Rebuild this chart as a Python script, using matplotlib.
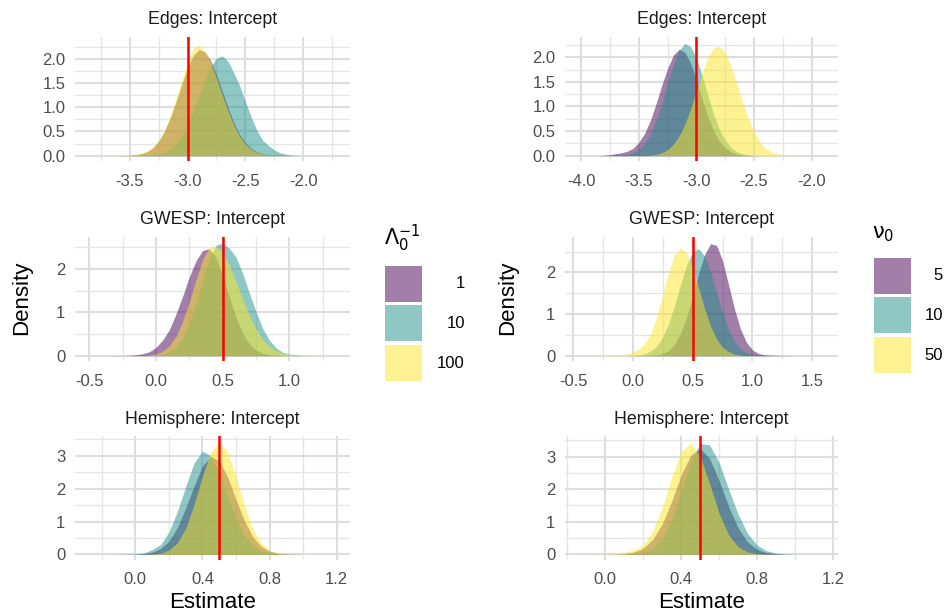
import matplotlib
matplotlib.use("Agg")
import matplotlib.pyplot as plt
from matplotlib.ticker import FixedLocator, MultipleLocator
from matplotlib.patches import Rectangle

plt.rcParams['font.family'] = ['Liberation Sans', 'DejaVu Sans']
plt.rcParams['mathtext.fontset'] = 'dejavusans'

W, H = 945, 615
fill_colors = ["#440154", "#21908C", "#FDE725"]

# ---- posterior densities ----
# Edges intercept, Lambda_0^-1 prior (1, 10, 100)
edges_lam_x = [-3.70, -3.65, -3.60, -3.55, -3.50, -3.45, -3.40, -3.35, -3.30, -3.25, -3.20, -3.15,
               -3.10, -3.05, -3.00, -2.95, -2.90, -2.85, -2.80, -2.75, -2.70, -2.65, -2.60, -2.55,
               -2.50, -2.45, -2.40, -2.35, -2.30, -2.25, -2.20, -2.15, -2.10, -2.05, -2.00]
edges_lam_1 = [0.0, 0.0, 0.001, 0.003, 0.007, 0.017, 0.04, 0.083, 0.16, 0.30, 0.50, 0.78,
               1.11, 1.47, 1.82, 2.07, 2.19, 2.14, 1.96, 1.67, 1.33, 0.99, 0.68, 0.44,
               0.27, 0.15, 0.08, 0.04, 0.018, 0.007, 0.003, 0.001, 0.0, 0.0, 0.0]
edges_lam_10 = [0.0, 0.0, 0.0, 0.0, 0.0, 0.001, 0.003, 0.007, 0.017, 0.036, 0.074, 0.14,
                0.25, 0.41, 0.64, 0.93, 1.25, 1.57, 1.84, 2.01, 2.06, 1.95, 1.71, 1.45,
                1.12, 0.80, 0.52, 0.32, 0.21, 0.12, 0.06, 0.03, 0.012, 0.004, 0.001]
edges_lam_100 = [0.0, 0.0, 0.002, 0.005, 0.01, 0.025, 0.05, 0.095, 0.18, 0.32, 0.53, 0.83,
                 1.18, 1.56, 1.93, 2.22, 2.29, 2.15, 1.92, 1.60, 1.25, 0.92, 0.63, 0.40,
                 0.24, 0.13, 0.07, 0.035, 0.015, 0.006, 0.002, 0.0, 0.0, 0.0, 0.0]

# Edges intercept, nu_0 prior (5, 10, 50)
edges_nu_x = [-3.85, -3.80, -3.75, -3.70, -3.65, -3.60, -3.55, -3.50, -3.45, -3.40, -3.35, -3.30,
              -3.25, -3.20, -3.15, -3.10, -3.05, -3.00, -2.95, -2.90, -2.85, -2.80, -2.75, -2.70,
              -2.65, -2.60, -2.55, -2.50, -2.45, -2.40, -2.35, -2.30, -2.25, -2.20, -2.15]
edges_nu_5 = [0.001, 0.01, 0.02, 0.04, 0.06, 0.09, 0.15, 0.27, 0.45, 0.71, 1.05, 1.43,
              1.77, 2.04, 2.16, 2.10, 1.88, 1.54, 1.15, 0.80, 0.50, 0.29, 0.16, 0.076,
              0.034, 0.014, 0.005, 0.002, 0.0, 0.0, 0.0, 0.0, 0.0, 0.0, 0.0]
edges_nu_10 = [0.0, 0.0, 0.001, 0.004, 0.01, 0.025, 0.058, 0.125, 0.24, 0.44, 0.71, 1.06,
               1.47, 1.85, 2.14, 2.28, 2.22, 1.98, 1.63, 1.22, 0.84, 0.53, 0.31, 0.17,
               0.08, 0.036, 0.015, 0.005, 0.002, 0.0, 0.0, 0.0, 0.0, 0.0, 0.0]
edges_nu_50 = [0.0, 0.0, 0.0, 0.0, 0.0, 0.0, 0.001, 0.002, 0.004, 0.011, 0.027, 0.06,
               0.12, 0.23, 0.40, 0.64, 0.95, 1.31, 1.68, 2.00, 2.19, 2.22, 2.09, 1.82,
               1.46, 1.10, 0.76, 0.48, 0.28, 0.15, 0.08, 0.04, 0.016, 0.006, 0.002]

# GWESP intercept, Lambda_0^-1 prior
gwesp_lam_x = [-0.35, -0.30, -0.25, -0.20, -0.15, -0.10, -0.05, 0.00, 0.05, 0.10, 0.15, 0.20,
               0.25, 0.30, 0.35, 0.40, 0.45, 0.50, 0.55, 0.60, 0.65, 0.70, 0.75, 0.80,
               0.85, 0.90, 0.95, 1.00, 1.05, 1.10, 1.15, 1.20]
gwesp_lam_1 = [0.0, 0.003, 0.004, 0.01, 0.02, 0.045, 0.09, 0.19, 0.36, 0.60, 0.96, 1.37,
               1.82, 2.19, 2.43, 2.47, 2.26, 1.85, 1.35, 0.89, 0.52, 0.27, 0.13, 0.054,
               0.02, 0.007, 0.002, 0.0, 0.0, 0.0, 0.0, 0.0]
gwesp_lam_10 = [0.0, 0.0, 0.0, 0.0, 0.0, 0.001, 0.003, 0.011, 0.03, 0.085, 0.19, 0.41,
                0.74, 1.21, 1.74, 2.24, 2.55, 2.60, 2.48, 2.28, 1.90, 1.45, 1.02, 0.63,
                0.36, 0.18, 0.08, 0.035, 0.014, 0.005, 0.002, 0.001]
gwesp_lam_100 = [0.0, 0.0, 0.0, 0.0, 0.001, 0.005, 0.015, 0.04, 0.10, 0.23, 0.44, 0.79,
                 1.24, 1.75, 2.22, 2.50, 2.53, 2.38, 2.09, 1.72, 1.30, 0.93, 0.62, 0.38,
                 0.22, 0.12, 0.06, 0.028, 0.012, 0.005, 0.002, 0.001]

# GWESP intercept, nu_0 prior
gwesp_nu_x = [-0.40, -0.35, -0.30, -0.25, -0.20, -0.15, -0.10, -0.05, 0.00, 0.05, 0.10, 0.15,
              0.20, 0.25, 0.30, 0.35, 0.40, 0.45, 0.50, 0.55, 0.60, 0.65, 0.70, 0.75,
              0.80, 0.85, 0.90, 0.95, 1.00, 1.05, 1.10, 1.15, 1.20, 1.25, 1.30, 1.35]
gwesp_nu_5 = [0.0, 0.0, 0.0, 0.0, 0.0, 0.0, 0.0, 0.0, 0.0, 0.001, 0.002, 0.007,
              0.02, 0.054, 0.13, 0.28, 0.54, 0.92, 1.43, 1.97, 2.43, 2.69, 2.65, 2.28,
              1.71, 1.12, 0.64, 0.32, 0.14, 0.052, 0.025, 0.015, 0.01, 0.006, 0.003, 0.0]
gwesp_nu_10 = [0.0, 0.0, 0.0, 0.0, 0.0, 0.0, 0.001, 0.002, 0.006, 0.018, 0.046, 0.11,
               0.23, 0.45, 0.78, 1.21, 1.72, 2.18, 2.49, 2.57, 2.39, 2.01, 1.52, 1.04,
               0.63, 0.35, 0.17, 0.077, 0.031, 0.011, 0.004, 0.001, 0.0, 0.0, 0.0, 0.0]
gwesp_nu_50 = [0.0, 0.0, 0.002, 0.003, 0.005, 0.008, 0.012, 0.04, 0.09, 0.16, 0.30, 0.52,
               0.94, 1.47, 2.02, 2.44, 2.60, 2.47, 2.11, 1.63, 1.13, 0.71, 0.40, 0.20,
               0.094, 0.039, 0.014, 0.005, 0.002, 0.0, 0.0, 0.0, 0.0, 0.0, 0.0, 0.0]

# Hemisphere intercept, Lambda_0^-1 prior
hemi_lam_x = [-0.15, -0.10, -0.05, 0.00, 0.05, 0.10, 0.15, 0.20, 0.25, 0.30, 0.35, 0.40,
              0.45, 0.50, 0.55, 0.60, 0.65, 0.70, 0.75, 0.80, 0.85, 0.90, 0.95, 1.00]
hemi_lam_1 = [0.0, 0.002, 0.003, 0.006, 0.021, 0.065, 0.18, 0.40, 0.81, 1.41, 2.08, 2.69,
              2.98, 2.85, 2.36, 1.67, 1.03, 0.54, 0.25, 0.10, 0.033, 0.01, 0.004, 0.001]
hemi_lam_10 = [0.0, 0.003, 0.005, 0.015, 0.04, 0.15, 0.30, 0.68, 1.30, 2.06, 2.78, 3.14,
               3.00, 2.48, 1.76, 1.09, 0.57, 0.26, 0.10, 0.035, 0.01, 0.003, 0.001, 0.0]
hemi_lam_100 = [0.0, 0.0, 0.0, 0.0, 0.002, 0.01, 0.04, 0.13, 0.35, 0.79, 1.51, 2.38,
                3.12, 3.42, 3.12, 2.38, 1.51, 0.79, 0.35, 0.13, 0.04, 0.01, 0.003, 0.001]

# Hemisphere intercept, nu_0 prior
hemi_nu_x = [-0.05, 0.00, 0.05, 0.10, 0.15, 0.20, 0.25, 0.30, 0.35, 0.40, 0.45,
             0.50, 0.55, 0.60, 0.65, 0.70, 0.75, 0.80, 0.85, 0.90, 0.95, 1.00]
hemi_nu_5 = [0.001, 0.003, 0.006, 0.02, 0.065, 0.18, 0.45, 0.92, 1.62, 2.42, 3.04,
             3.25, 2.94, 2.26, 1.47, 0.81, 0.38, 0.15, 0.05, 0.014, 0.004, 0.001]
hemi_nu_10 = [0.0, 0.0, 0.0, 0.002, 0.012, 0.05, 0.17, 0.47, 1.04, 1.91, 2.82,
              3.40, 3.36, 2.82, 2.01, 1.23, 0.64, 0.28, 0.11, 0.035, 0.01, 0.003]
hemi_nu_50 = [0.002, 0.006, 0.02, 0.06, 0.13, 0.28, 0.71, 1.43, 2.35, 3.14, 3.41,
              3.01, 2.17, 1.26, 0.60, 0.23, 0.073, 0.02, 0.005, 0.001, 0.0, 0.0]

true_values = {"Edges": -3.0, "GWESP": 0.5, "Hemisphere": 0.5}
lam_levels = ["1", "10", "100"]
nu_levels = ["5", "10", "50"]


def px_rect(l, t, r, b):
    return [l / W, 1 - b / H, (r - l) / W, (b - t) / H]


def ftext(x, y, s, **kw):
    fig.text(x / W, 1 - y / H, s, **kw)


def draw_panel(rect, x, curves, truth, title, xlim, ylim, xticks, xlabels, xminor,
               yticks, ylabels, yminor):
    ax = fig.add_axes(px_rect(*rect))
    for y, c in zip(curves, fill_colors):
        ax.fill_between(x, y, 0, color=c, alpha=0.5, linewidth=0, zorder=2)
    ax.axvline(truth, color="red", lw=1.8, zorder=5)
    ax.set_xlim(xlim)
    ax.set_ylim(ylim)
    ax.xaxis.set_major_locator(FixedLocator(xticks))
    ax.set_xticklabels(xlabels)
    ax.yaxis.set_major_locator(FixedLocator(yticks))
    ax.set_yticklabels(ylabels)
    ax.xaxis.set_minor_locator(MultipleLocator(xminor))
    ax.yaxis.set_minor_locator(MultipleLocator(yminor))
    ax.grid(which="major", color="#DEDEDE", lw=1.5, zorder=0)
    ax.grid(which="minor", color="#E6E6E6", lw=1.0, zorder=0)
    ax.set_axisbelow(True)
    ax.tick_params(which="both", length=0)
    ax.tick_params(axis="x", labelsize=12, labelcolor="#4D4D4D", pad=9)
    ax.tick_params(axis="y", labelsize=12, labelcolor="#4D4D4D", pad=7)
    for s in ax.spines.values():
        s.set_visible(False)
    ftext((rect[0] + rect[2]) / 2, rect[1] - 17, title, ha="center", va="center",
          fontsize=12.8, color="#1A1A1A")
    return ax


fig = plt.figure(figsize=(W / 100, H / 100), dpi=100)

L = (75, 350)
R = (565, 838)
rows = [(37, 161.3), (237, 361.3), (436, 560)]

# left column: Lambda_0^-1
draw_panel((L[0], rows[0][0], L[1], rows[0][1]), edges_lam_x,
           [edges_lam_1, edges_lam_10, edges_lam_100], true_values["Edges"],
           "Edges: Intercept", (-3.974, -1.595), (-0.116, 2.45),
           [-3.5, -3.0, -2.5, -2.0], ["-3.5", "-3.0", "-2.5", "-2.0"], 0.25,
           [0, 0.5, 1.0, 1.5, 2.0], ["0.0", "0.5", "1.0", "1.5", "2.0"], 0.25)
draw_panel((L[0], rows[1][0], L[1], rows[1][1]), gwesp_lam_x,
           [gwesp_lam_1, gwesp_lam_10, gwesp_lam_100], true_values["GWESP"],
           "GWESP: Intercept", (-0.607, 1.455), (-0.13, 2.74),
           [-0.5, 0.0, 0.5, 1.0], ["-0.5", "0.0", "0.5", "1.0"], 0.25,
           [0, 1, 2], ["0", "1", "2"], 0.5)
draw_panel((L[0], rows[2][0], L[1], rows[2][1]), hemi_lam_x,
           [hemi_lam_1, hemi_lam_10, hemi_lam_100], true_values["Hemisphere"],
           "Hemisphere: Intercept", (-0.36, 1.28), (-0.17, 3.6),
           [0.0, 0.4, 0.8, 1.2], ["0.0", "0.4", "0.8", "1.2"], 0.2,
           [0, 1, 2, 3], ["0", "1", "2", "3"], 0.5)

# right column: nu_0
draw_panel((R[0], rows[0][0], R[1], rows[0][1]), edges_nu_x,
           [edges_nu_5, edges_nu_10, edges_nu_50], true_values["Edges"],
           "Edges: Intercept", (-4.139, -1.772), (-0.114, 2.41),
           [-4.0, -3.5, -3.0, -2.5, -2.0], ["-4.0", "-3.5", "-3.0", "-2.5", "-2.0"], 0.25,
           [0, 0.5, 1.0, 1.5, 2.0], ["0.0", "0.5", "1.0", "1.5", "2.0"], 0.25)
draw_panel((R[0], rows[1][0], R[1], rows[1][1]), gwesp_nu_x,
           [gwesp_nu_5, gwesp_nu_10, gwesp_nu_50], true_values["GWESP"],
           "GWESP: Intercept", (-0.567, 1.715), (-0.134, 2.85),
           [-0.5, 0.0, 0.5, 1.0, 1.5], ["-0.5", "0.0", "0.5", "1.0", "1.5"], 0.25,
           [0, 1, 2], ["0", "1", "2"], 0.5)
draw_panel((R[0], rows[2][0], R[1], rows[2][1]), hemi_nu_x,
           [hemi_nu_5, hemi_nu_10, hemi_nu_50], true_values["Hemisphere"],
           "Hemisphere: Intercept", (-0.211, 1.226), (-0.175, 3.63),
           [0.0, 0.4, 0.8, 1.2], ["0.0", "0.4", "0.8", "1.2"], 0.2,
           [0, 1, 2, 3], ["0", "1", "2", "3"], 0.5)

# axis titles
for cx in [(L[0] + L[1]) / 2, (R[0] + R[1]) / 2]:
    ftext(cx, 603, "Estimate", ha="center", va="center", fontsize=16)
ftext(22, 298, "Density", ha="center", va="center", fontsize=16, rotation=90)
ftext(508, 298, "Density", ha="center", va="center", fontsize=16, rotation=90)

# legends
ftext(384, 238, r"$\Lambda_0^{-1}$", ha="left", va="center", fontsize=15)
for i, (lab, c) in enumerate(zip(lam_levels, fill_colors)):
    top = 265.7 + i * 39.7
    fig.patches.append(Rectangle((385 / W, 1 - (top + 36) / H), 36.7 / W, 36 / H,
                                 transform=fig.transFigure, facecolor=c, alpha=0.5,
                                 edgecolor="none"))
    ftext(465, top + 18, lab, ha="right", va="center", fontsize=12)

ftext(872, 234, r"$\mathrm{\nu}_0$", ha="left", va="center", fontsize=15)
for i, (lab, c) in enumerate(zip(nu_levels, fill_colors)):
    top = 257.7 + i * 39.7
    fig.patches.append(Rectangle((874.3 / W, 1 - (top + 35.8) / H), 36.4 / W, 35.8 / H,
                                 transform=fig.transFigure, facecolor=c, alpha=0.5,
                                 edgecolor="none"))
    ftext(943, top + 18, lab, ha="right", va="center", fontsize=12)

fig.savefig("out.png", dpi=100)
